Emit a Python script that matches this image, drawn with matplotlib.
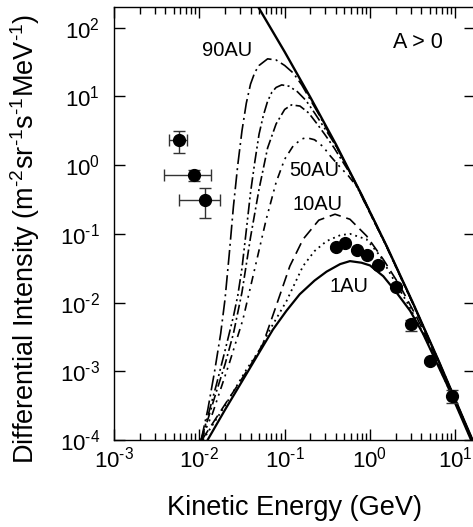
import matplotlib
matplotlib.use("Agg")
import matplotlib.pyplot as plt
import numpy as np
from matplotlib.ticker import LogLocator, NullLocator, NullFormatter, FuncFormatter

plt.rcParams['font.family'] = 'Liberation Sans'
plt.rcParams['mathtext.fontset'] = 'custom'
plt.rcParams['mathtext.rm'] = 'Liberation Sans'
plt.rcParams['mathtext.default'] = 'regular'

HY = '\u2010'  # short hyphen used for the superscript minus signs

# ---- data (E in GeV, J in m^-2 sr^-1 s^-1 MeV^-1) ----
lis_E = [0.048, 0.1, 0.2, 0.4, 0.79, 1.58, 3.16, 6.31, 12.6, 17.8]
lis_J = [209, 44.5, 9.7, 1.99, 0.378, 0.065, 0.0101, 0.00146, 1.96e-4, 7.2e-5]

au1_E = [0.0125, 0.02, 0.0324, 0.0501, 0.0728, 0.105, 0.15, 0.224, 0.31, 0.447, 0.582,
         0.794, 1.0, 1.43, 2.0, 2.95, 4.17, 5.56, 7.94, 11.2, 15.8]
au1_J = [1.0e-4, 2.75e-4, 7.5e-4, 1.86e-3, 4.04e-3, 7.6e-3, 0.0132, 0.0209, 0.0282, 0.0363, 0.0401,
         0.038, 0.0347, 0.0242, 0.0145, 0.0076, 0.00355, 0.00166, 6.5e-4, 2.45e-4, 9.1e-5]

dot_E = [0.011, 0.02, 0.0355, 0.0501, 0.0667, 0.105, 0.164, 0.224, 0.31, 0.447, 0.582,
         0.912, 1.31, 1.88, 2.82, 4.47, 7.08, 11.2, 15.8]
dot_J = [1.0e-4, 3.16e-4, 1.05e-3, 2.0e-3, 3.98e-3, 0.0105, 0.0339, 0.0562, 0.0785, 0.0955, 0.1,
         0.0832, 0.0479, 0.0219, 0.00933, 0.00302, 8.9e-4, 2.51e-4, 9.3e-5]

au10_E = [0.0107, 0.02, 0.0282, 0.0389, 0.0556, 0.0794, 0.115, 0.164, 0.251, 0.389, 0.582,
          0.912, 1.43, 2.25, 3.55, 5.62, 8.91, 15.8]
au10_J = [1.0e-4, 3.3e-4, 6.3e-4, 1.17e-3, 2.5e-3, 8.9e-3, 0.0339, 0.0832, 0.158, 0.193, 0.163,
          0.0933, 0.0425, 0.0174, 0.00603, 0.00182, 5.0e-4, 9.8e-5]

au50_E = [0.0105, 0.0143, 0.0225, 0.0324, 0.0444, 0.0608, 0.0794, 0.1, 0.126, 0.158, 0.18,
          0.224, 0.282, 0.339, 0.447, 0.562, 0.708, 1.58, 3.16, 6.31, 12.6, 17.8]
au50_J = [1.0e-4, 2.45e-4, 1.32e-3, 5.65e-3, 0.0303, 0.163, 0.562, 1.22, 1.91, 2.40, 2.51,
          2.34, 1.86, 1.38, 0.933, 0.692, 0.479, 0.0631, 0.00977, 0.00141, 1.9e-4, 7.1e-5]

c60_E = [0.0105, 0.0126, 0.0158, 0.02, 0.0251, 0.0316, 0.0398, 0.0501, 0.0631, 0.0794, 0.1,
         0.12, 0.151, 0.191, 0.24, 0.302, 0.38, 0.479, 0.603, 1.58, 3.16, 6.31, 12.6, 17.8]
c60_J = [1.0e-4, 2.0e-4, 5.0e-4, 1.26e-3, 3.55e-3, 0.0141, 0.0891, 0.447, 1.78, 3.98, 6.46,
         7.52, 7.24, 5.75, 3.98, 2.69, 1.78, 1.12, 0.708, 0.0638, 0.00989, 0.00143, 1.93e-4, 7.1e-5]

c70_E = [0.0105, 0.0126, 0.0158, 0.02, 0.0251, 0.0282, 0.0316, 0.0355, 0.0398, 0.0447, 0.0501,
         0.0562, 0.0631, 0.0708, 0.0794, 0.0923, 0.112, 0.141, 0.178, 0.224, 0.282, 0.355,
         0.447, 0.794, 1.58, 3.16, 6.31, 12.6, 17.8]
c70_J = [1.0e-4, 2.24e-4, 6.3e-4, 2.0e-3, 6.3e-3, 0.0126, 0.0316, 0.112, 0.398, 1.12, 2.82,
         5.25, 8.51, 11.5, 13.5, 14.7, 14.1, 11.7, 8.71, 5.75, 3.72, 2.40,
         1.48, 0.376, 0.0646, 0.01, 0.00145, 1.95e-4, 7.2e-5]

au90_E = [0.0105, 0.0126, 0.0151, 0.0178, 0.02, 0.0224, 0.0251, 0.0282, 0.0316, 0.0355, 0.0398,
          0.0447, 0.0501, 0.0631, 0.0794, 0.1, 0.126, 0.158, 0.2, 0.251, 0.316, 0.398,
          0.794, 1.58, 3.16, 6.31, 12.6, 17.8]
au90_J = [1.0e-4, 2.82e-4, 1.0e-3, 3.55e-3, 0.0112, 0.0501, 0.251, 1.0, 3.16, 7.94, 15.1,
          22.4, 28.2, 35.2, 33.9, 28.2, 21.9, 14.8, 8.91, 5.50, 3.24, 1.93,
          0.376, 0.0646, 0.01, 0.00145, 1.95e-4, 7.2e-5]

# measurements
low_E = [0.0058, 0.0087, 0.0117]
low_E_lo = [0.0044, 0.0039, 0.0058]
low_E_hi = [0.0072, 0.0138, 0.0177]
low_J = [2.3, 0.71, 0.31]
low_J_lo = [1.5, 0.58, 0.168]
low_J_hi = [3.1, 0.85, 0.46]

hi_E = [0.40, 0.51, 0.70, 0.91, 1.25, 2.0, 3.03, 5.08, 9.1]
hi_J = [0.0635, 0.0726, 0.058, 0.050, 0.0355, 0.017, 0.0048, 0.00139, 0.00044]
hi_J_lo = [0.061, 0.070, 0.056, 0.048, 0.034, 0.0163, 0.0038, 0.00132, 0.00034]
hi_J_hi = [0.066, 0.075, 0.060, 0.052, 0.037, 0.0177, 0.0056, 0.00146, 0.00054]

fig = plt.figure(figsize=(4.73, 5.27), dpi=100)
ax = fig.add_axes([114 / 473, 87 / 527, 361 / 473, 433 / 527])

ax.plot(lis_E, lis_J, color='black', lw=1.7)
ax.plot(au1_E, au1_J, color='black', lw=1.6)
ax.plot(dot_E, dot_J, color='black', lw=1.3, ls=(0, (1, 2.2)))
ax.plot(au10_E, au10_J, color='black', lw=1.2, ls=(0, (7, 3.5)))
ax.plot(au50_E, au50_J, color='black', lw=1.2, ls=(0, (5, 3, 1.2, 3, 1.2, 3)))
ax.plot(c60_E, c60_J, color='black', lw=1.2, ls=(0, (6, 2, 1.2, 2)))
ax.plot(c70_E, c70_J, color='black', lw=1.2, ls=(0, (7, 2, 1.2, 2, 1.2, 2)))
ax.plot(au90_E, au90_J, color='black', lw=1.2, ls=(0, (9, 2.5, 1.2, 2.5)))

ax.errorbar(low_E, low_J,
            xerr=[np.subtract(low_E, low_E_lo), np.subtract(low_E_hi, low_E)],
            yerr=[np.subtract(low_J, low_J_lo), np.subtract(low_J_hi, low_J)],
            fmt='o', color='black', ecolor='#333333', elinewidth=1.0, capsize=4,
            capthick=1.0, markersize=8.5, zorder=5)
ax.errorbar(hi_E, hi_J,
            yerr=[np.subtract(hi_J, hi_J_lo), np.subtract(hi_J_hi, hi_J)],
            fmt='o', color='black', ecolor='#333333', elinewidth=1.0, capsize=4,
            capthick=1.0, markersize=8.5, zorder=5)

ax.text(0.0108, 46, '90AU', fontsize=14.5, ha='left', va='center')
ax.text(0.1146, 0.83, '50AU', fontsize=14.5, ha='left', va='center')
ax.text(0.125, 0.27, '10AU', fontsize=14.5, ha='left', va='center')
ax.text(0.339, 0.0171, '1AU', fontsize=14.5, ha='left', va='center')
ax.text(1.88, 61, 'A > 0', fontsize=15.5, ha='left', va='center')

ax.set_xscale('log')
ax.set_yscale('log')
ax.set_xlim(1e-3, 17)
ax.set_ylim(1e-4, 200)


def pow10(v, pos):
    e = int(round(np.log10(v)))
    return '$10^{%s}$' % str(e).replace('-', HY)


ax.xaxis.set_major_locator(LogLocator(base=10, numticks=10))
ax.xaxis.set_major_formatter(FuncFormatter(pow10))
ax.xaxis.set_minor_locator(LogLocator(base=10, subs=np.arange(2, 10), numticks=30))
ax.xaxis.set_minor_formatter(NullFormatter())
ax.yaxis.set_major_locator(LogLocator(base=10, numticks=10))
ax.yaxis.set_major_formatter(FuncFormatter(pow10))
ax.yaxis.set_minor_locator(NullLocator())

ax.tick_params(which='both', direction='in', top=True, right=True, width=1.0)
ax.tick_params(which='major', length=8, labelsize=16)
ax.tick_params(which='minor', length=5)
ax.tick_params(axis='x', pad=5)
ax.tick_params(axis='y', pad=10)
for s in ax.spines.values():
    s.set_linewidth(1.0)

ax.set_xlabel('Kinetic Energy (GeV)', fontsize=19.5, labelpad=16)
ax.set_ylabel('Differential Intensity (m$^{%s2}$sr$^{%s1}$s$^{%s1}$MeV$^{%s1}$)' % (HY, HY, HY, HY),
              fontsize=19.5)
ax.yaxis.set_label_coords(-0.20, 0.464)

fig.savefig('out.png', dpi=100)
